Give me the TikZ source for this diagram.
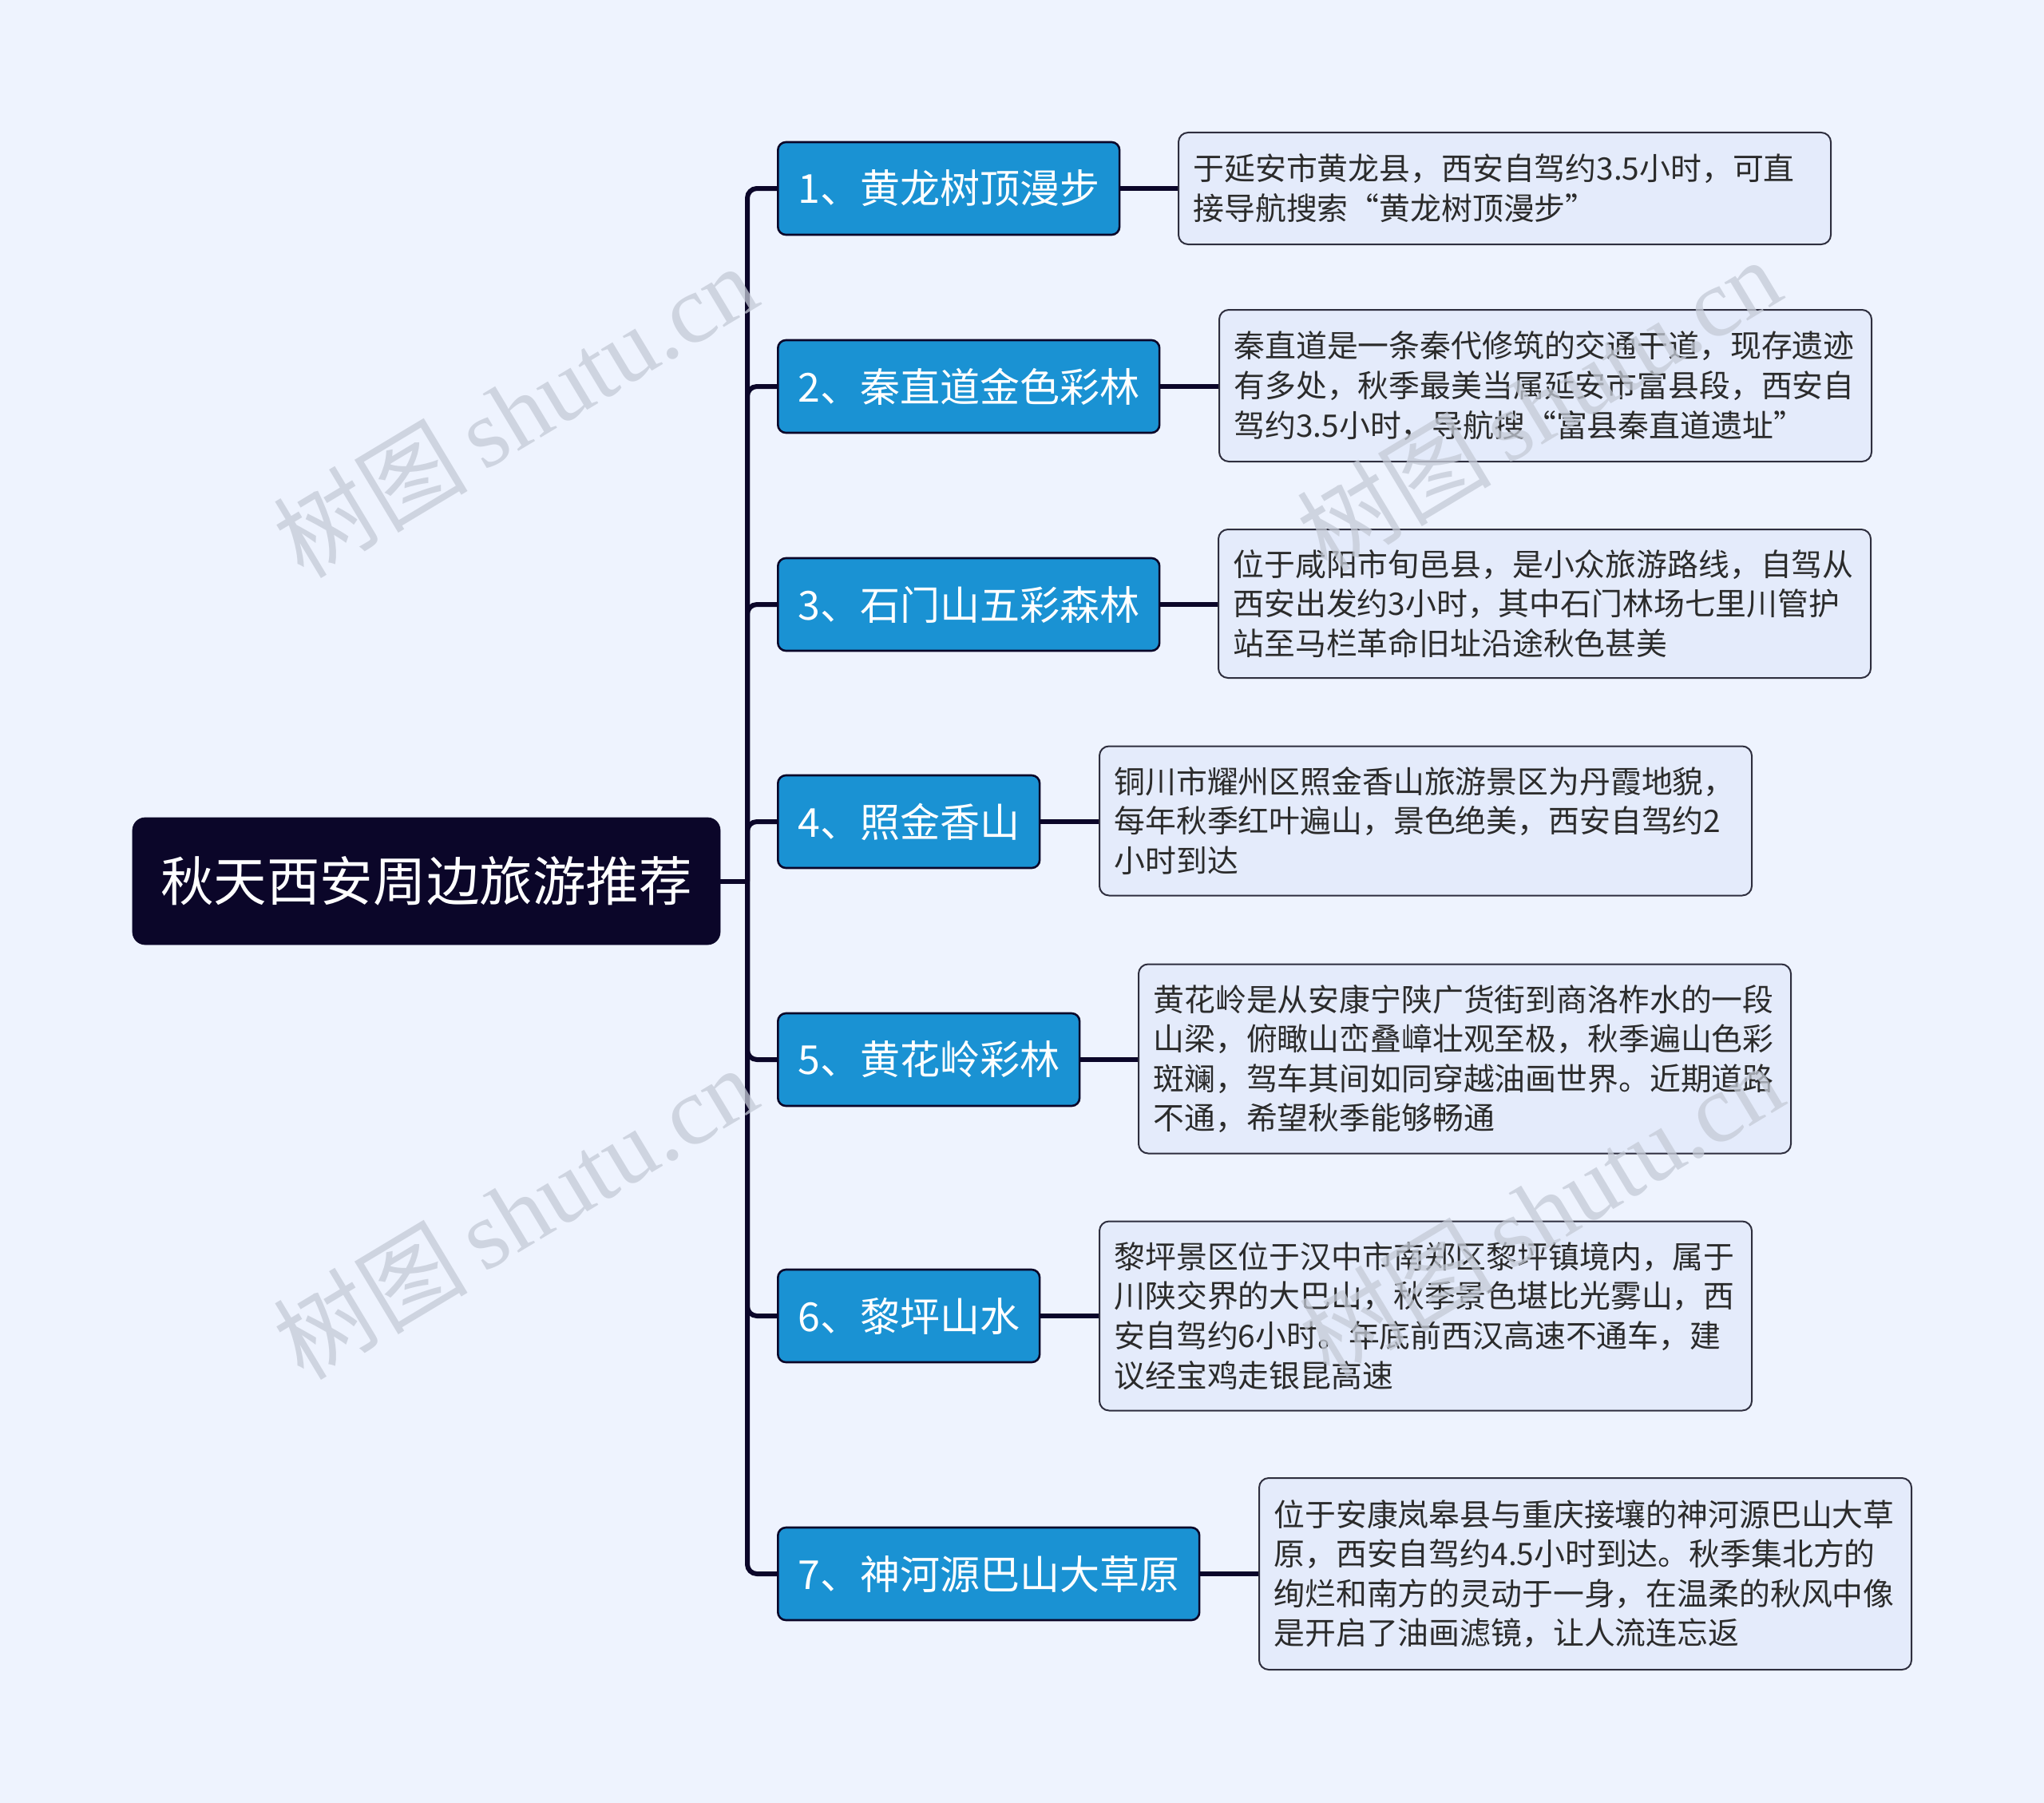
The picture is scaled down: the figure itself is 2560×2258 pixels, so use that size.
\documentclass[tikz,border=0pt]{standalone}
\usepackage{fontspec}
\setmainfont{Noto Sans CJK SC}
\newfontfamily\wmserif{Liberation Serif}
\newfontfamily\wmcjk{Noto Sans CJK SC}
\definecolor{bgc}{HTML}{EEF3FE}
\definecolor{rootc}{HTML}{0B0629}
\definecolor{topicc}{HTML}{1A92D3}
\definecolor{detc}{HTML}{E4EBFB}
\definecolor{detborder}{HTML}{2E2E3E}
\definecolor{textc}{HTML}{2B2B2B}
\definecolor{wmc}{RGB}{196,202,214}
\begin{document}
\begin{tikzpicture}[x=0.5bp,y=-0.5bp,
  rootbox/.style={fill=rootc, draw=rootc, rounded corners=8bp, text=white,
    minimum width=368bp, minimum height=79.5bp, inner sep=0pt,
    font=\fontsize{33.4}{40}\selectfont},
  topicbox/.style={fill=topicc, draw=rootc, line width=1.3bp, rounded corners=5bp,
    text=white, minimum height=58bp, inner xsep=12.5bp, anchor=west,
    font=\fontsize{25.1}{30}\selectfont},
  detailbox/.style={fill=detc, draw=detborder, line width=1bp, rounded corners=6bp,
    text=textc, text width=390bp, inner xsep=9.25bp, inner ysep=0pt, align=left, anchor=west,
    font=\fontsize{19.5}{24.9}\selectfont},
  link/.style={draw=rootc, line width=3bp, rounded corners=6bp},
  wm/.style={text=wmc, opacity=0.75, rotate=31, inner sep=0pt}
]
\fill[bgc] (0,0) rectangle (2560,2258);
\useasboundingbox (0,0) rectangle (2560,2258);

\node[rootbox] (root) at (534,1103.5) {秋天西安周边旅游推荐};
\coordinate (hub) at (936,1103.5);

\node[topicbox] (t1) at (973,236) {1、黄龙树顶漫步};
\node[topicbox] (t2) at (973,484) {2、秦直道金色彩林};
\node[topicbox] (t3) at (973,757) {3、石门山五彩森林};
\node[topicbox] (t4) at (973,1029) {4、照金香山};
\node[topicbox] (t5) at (973,1327) {5、黄花岭彩林};
\node[topicbox] (t6) at (973,1648) {6、黎坪山水};
\node[topicbox] (t7) at (973,1971) {7、神河源巴山大草原};

\node[detailbox, minimum height=70bp] (d1) at (1475,236)
  {于延安市黄龙县，西安自驾约3.5小时，可直\\接导航搜索“黄龙树顶漫步”};
\node[detailbox, minimum height=95bp] (d2) at (1526,483)
  {秦直道是一条秦代修筑的交通干道，现存遗迹\\有多处，秋季最美当属延安市富县段，西安自\\驾约3.5小时，导航搜“富县秦直道遗址”};
\node[detailbox, minimum height=93bp] (d3) at (1525,756)
  {位于咸阳市旬邑县，是小众旅游路线，自驾从\\西安出发约3小时，其中石门林场七里川管护\\站至马栏革命旧址沿途秋色甚美};
\node[detailbox, minimum height=93.5bp] (d4) at (1376,1028)
  {铜川市耀州区照金香山旅游景区为丹霞地貌，\\每年秋季红叶遍山，景色绝美，西安自驾约2\\小时到达};
\node[detailbox, minimum height=118.5bp] (d5) at (1425,1326)
  {黄花岭是从安康宁陕广货街到商洛柞水的一段\\山梁，俯瞰山峦叠嶂壮观至极，秋季遍山色彩\\斑斓，驾车其间如同穿越油画世界。近期道路\\不通，希望秋季能够畅通};
\node[detailbox, minimum height=118.5bp] (d6) at (1376,1648)
  {黎坪景区位于汉中市南郑区黎坪镇境内，属于\\川陕交界的大巴山，秋季景色堪比光雾山，西\\安自驾约6小时。年底前西汉高速不通车，建\\议经宝鸡走银昆高速};
\node[detailbox, minimum height=120bp] (d7) at (1576,1971)
  {位于安康岚皋县与重庆接壤的神河源巴山大草\\原，西安自驾约4.5小时到达。秋季集北方的\\绚烂和南方的灵动于一身，在温柔的秋风中像\\是开启了油画滤镜，让人流连忘返};

\draw[link] (root.east) -- (hub);
\foreach \i in {1,...,7}{
  \draw[link] (hub) |- (t\i.west);
  \draw[link] (t\i.east) -- (t\i.east -| d\i.west);
}

\foreach \p in {(645,514),(1927,506),(645,1518),(1930,1515)}{
  \node[wm] at \p {\fontsize{61}{61}\selectfont\wmcjk 树图\,\wmserif shutu.cn};
}
\end{tikzpicture}
\end{document}
